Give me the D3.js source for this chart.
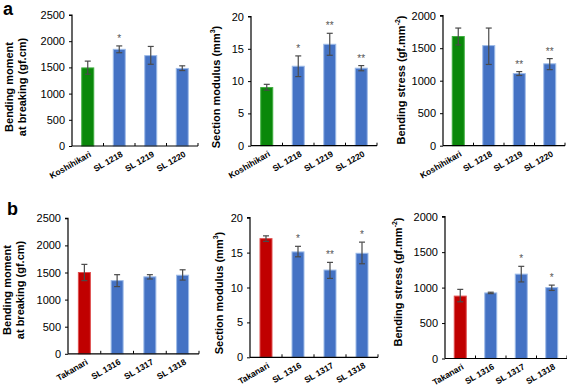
<!DOCTYPE html>
<html><head><meta charset="utf-8">
<script src="https://cdn.jsdelivr.net/npm/d3@7/dist/d3.min.js"></script>
<style>body{margin:0;background:#fff}svg{display:block}text{font-family:"Liberation Sans",Arial,sans-serif}</style>
</head><body>
<svg id="c" width="567" height="387"></svg>
<script>
// ---------- DATA ----------
const catsA = ["Koshihikari", "SL 1218", "SL 1219", "SL 1220"];
const catsB = ["Takanari", "SL 1316", "SL 1317", "SL 1318"];

const momentA = [1490, 1845, 1725, 1480];
const momentAErr = [[1370, 1620], [1780, 1910], [1560, 1900], [1440, 1530]];
const momentASig = ["", "*", "", ""];

const modulusA = [9.0, 12.3, 15.7, 12.0];
const modulusAErr = [[8.6, 9.5], [10.7, 13.9], [14.0, 17.4], [11.6, 12.4]];
const modulusASig = ["", "*", "**", "**"];

const stressA = [1680, 1540, 1110, 1260];
const stressAErr = [[1550, 1810], [1250, 1810], [1080, 1140], [1170, 1340]];
const stressASig = ["", "", "**", "**"];

const momentB = [1500, 1350, 1420, 1450];
const momentBErr = [[1350, 1650], [1240, 1460], [1380, 1460], [1360, 1550]];
const momentBSig = ["", "", "", ""];

const modulusB = [17.0, 15.1, 12.5, 14.9];
const modulusBErr = [[16.6, 17.4], [14.4, 15.9], [11.3, 13.6], [13.4, 16.5]];
const modulusBSig = ["", "*", "**", "*"];

const stressB = [880, 925, 1190, 1000];
const stressBErr = [[800, 975], [915, 935], [1080, 1300], [960, 1035]];
const stressBSig = ["", "", "*", "*"];

const yMaxMoment = 2500, yMaxModulus = 20, yMaxStress = 2000;
const tickStepMoment = 500, tickStepModulus = 5, tickStepStress = 500;

// ---------- DRAW ----------
const svg = d3.select("#c");
const COL_GREEN = "#0a880a", COL_RED = "#c00000", COL_BLUE = "#4472c4", COL_BLUE_EDGE = "#9dbbe8";

function panel(o) {
  const g = svg.append("g");
  const x = d3.scaleBand().domain(o.cats).range([o.x0, o.x1]).paddingInner(0).paddingOuter(0);
  const y = d3.scaleLinear().domain([0, o.ymax]).range([o.yb, o.yt]);
  const bw = 12;
  const data = o.cats.map((c, i) => ({c, v: o.vals[i], e: o.err[i], s: o.sig[i], i}));

  // bars
  g.selectAll("rect.bar").data(data).enter().append("rect")
    .attr("x", d => x(d.c) + x.bandwidth() / 2 - bw / 2)
    .attr("y", d => y(d.v))
    .attr("width", bw)
    .attr("height", d => y(0) - y(d.v))
    .attr("fill", d => d.i === 0 ? o.ctrl : COL_BLUE)
    .attr("stroke", d => d.i === 0 ? o.ctrlEdge : COL_BLUE_EDGE)
    .attr("stroke-width", 1);

  // error bars
  const eg = g.selectAll("g.err").data(data).enter().append("g").attr("stroke", "#4a4a4a").attr("stroke-width", 1.2);
  eg.append("line").attr("x1", d => x(d.c) + x.bandwidth() / 2).attr("x2", d => x(d.c) + x.bandwidth() / 2)
    .attr("y1", d => y(d.e[0])).attr("y2", d => y(d.e[1]));
  [0, 1].forEach(k => eg.append("line")
    .attr("x1", d => x(d.c) + x.bandwidth() / 2 - 3).attr("x2", d => x(d.c) + x.bandwidth() / 2 + 3)
    .attr("y1", d => y(d.e[k])).attr("y2", d => y(d.e[k])));

  // significance
  g.selectAll("text.sig").data(data.filter(d => d.s)).enter().append("text")
    .attr("x", d => x(d.c) + x.bandwidth() / 2)
    .attr("y", d => y(d.e[1]) - 4)
    .attr("text-anchor", "middle").attr("font-size", 10).attr("fill", "#555")
    .text(d => d.s);

  // y axis
  const yAxis = d3.axisLeft(y).tickValues(d3.range(0, o.ymax + 1e-9, o.step)).tickSize(3).tickPadding(4).tickFormat(d3.format("d"));
  const ya = g.append("g").attr("transform", `translate(${o.x0},0)`).call(yAxis);
  ya.select(".domain").attr("stroke", "#000").attr("stroke-width", 1.2).attr("d", `M-3,${o.yt}H0V${o.yb}`);
  ya.selectAll(".tick line").attr("stroke", "#000");
  ya.selectAll(".tick text").attr("font-size", 11).attr("fill", "#000").style("font-family", '"Liberation Sans",Arial,sans-serif');

  // x axis line with inward ticks at category boundaries
  g.append("line").attr("x1", o.x0).attr("x2", o.x1).attr("y1", o.yb).attr("y2", o.yb).attr("stroke", "#000").attr("stroke-width", 1.2);
  const bounds = o.cats.slice(1).map(c => x(c)).concat([o.x1]);
  g.selectAll("line.xt").data(bounds).enter().append("line")
    .attr("x1", d => d).attr("x2", d => d).attr("y1", o.yb).attr("y2", o.yb - 3).attr("stroke", "#000").attr("stroke-width", 1);

  // category labels
  g.selectAll("text.cat").data(data).enter().append("text")
    .attr("transform", d => `translate(${x(d.c) + x.bandwidth() / 2 + 3},${o.yb + 8}) rotate(-30)`)
    .attr("text-anchor", "end").attr("font-size", 8.5).attr("font-weight", "bold").attr("fill", "#000")
    .attr("dominant-baseline", "middle")
    .text(d => d.c);

  // y titles
  o.title.forEach((t, k) => {
    const tx = g.append("text")
      .attr("transform", `translate(${o.tx[k]},${o.ty}) rotate(-90)`)
      .attr("text-anchor", "middle").attr("dominant-baseline", "middle")
      .attr("font-size", 11).attr("font-weight", "bold").attr("fill", "#000");
    t.forEach(part => {
      const ts = tx.append("tspan").text(part.t);
      if (part.sup) ts.attr("font-size", 7).attr("dy", -4);
      if (part.after) ts.attr("dy", 4);
    });
  });
}

const tMoment = [[{t: "Bending moment"}], [{t: "at breaking (gf.cm)"}]];
const tModulus = [[{t: "Section modulus (mm"}, {t: "3", sup: true}, {t: ")", after: true}]];
const tStress = [[{t: "Bending stress (gf.mm"}, {t: "-2", sup: true}, {t: ")", after: true}]];

panel({cats: catsA, vals: momentA, err: momentAErr, sig: momentASig, ymax: yMaxMoment, step: tickStepMoment,
  x0: 72, x1: 198, yt: 15, yb: 146, ctrl: COL_GREEN, ctrlEdge: "#3fae3f", title: tMoment, tx: [10, 23], ty: 87});
panel({cats: catsA, vals: modulusA, err: modulusAErr, sig: modulusASig, ymax: yMaxModulus, step: tickStepModulus,
  x0: 251, x1: 377, yt: 16.5, yb: 145.7, ctrl: COL_GREEN, ctrlEdge: "#3fae3f", title: tModulus, tx: [217], ty: 87});
panel({cats: catsA, vals: stressA, err: stressAErr, sig: stressASig, ymax: yMaxStress, step: tickStepStress,
  x0: 443, x1: 565, yt: 15.7, yb: 145.7, ctrl: COL_GREEN, ctrlEdge: "#3fae3f", title: tStress, tx: [402], ty: 80});

panel({cats: catsB, vals: momentB, err: momentBErr, sig: momentBSig, ymax: yMaxMoment, step: tickStepMoment,
  x0: 68, x1: 199, yt: 218.3, yb: 353.8, ctrl: COL_RED, ctrlEdge: "#e05050", title: tMoment, tx: [8, 21], ty: 290});
panel({cats: catsB, vals: modulusB, err: modulusBErr, sig: modulusBSig, ymax: yMaxModulus, step: tickStepModulus,
  x0: 250, x1: 378, yt: 217.7, yb: 357.3, ctrl: COL_RED, ctrlEdge: "#e05050", title: tModulus, tx: [220], ty: 293});
panel({cats: catsB, vals: stressB, err: stressBErr, sig: stressBSig, ymax: yMaxStress, step: tickStepStress,
  x0: 445, x1: 567, yt: 216.7, yb: 358.5, ctrl: COL_RED, ctrlEdge: "#e05050", title: tStress, tx: [399], ty: 282});

// panel letters
svg.append("text").attr("x", 3).attr("y", 15).attr("font-size", 18).attr("font-weight", "bold").text("a");
svg.append("text").attr("x", 7).attr("y", 215).attr("font-size", 18).attr("font-weight", "bold").text("b");
</script>
</body></html>
